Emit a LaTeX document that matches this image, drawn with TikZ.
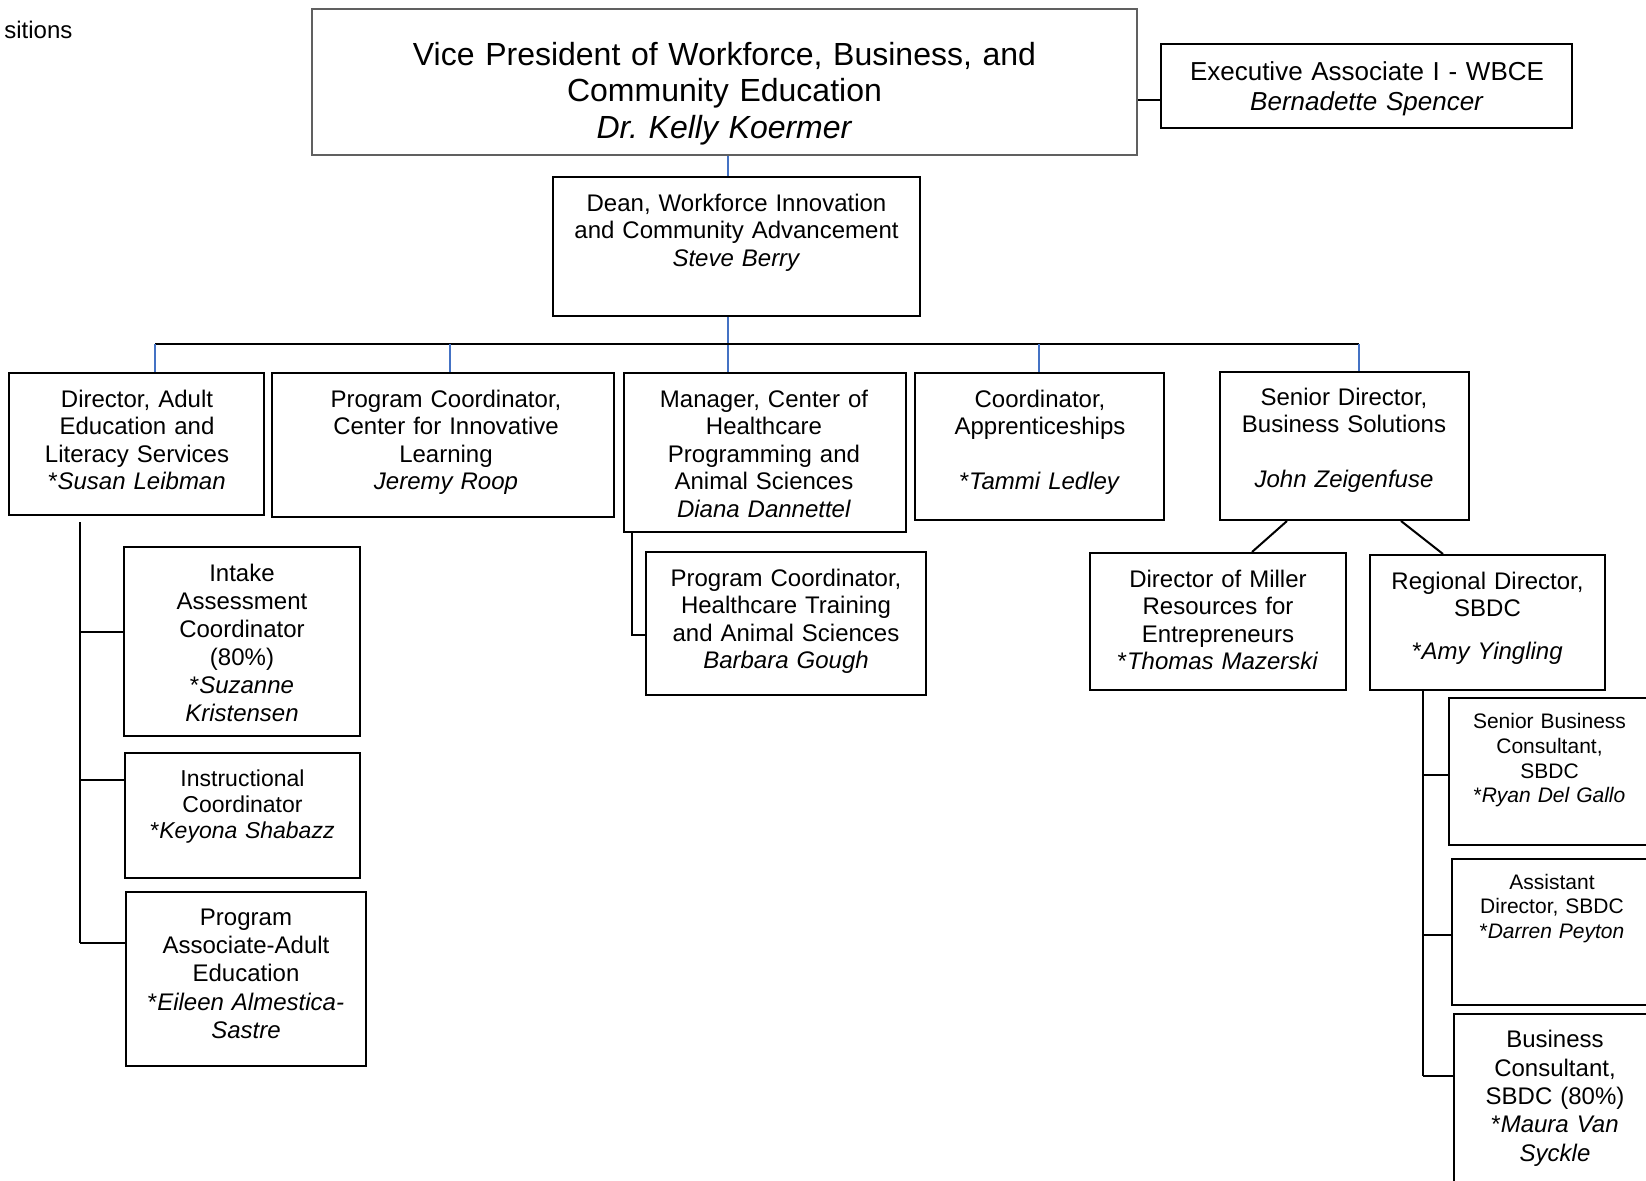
\documentclass[tikz,border=0pt]{standalone}
\usepackage{fontspec}
\setmainfont{Liberation Sans}
\usepackage{tikz}
\usetikzlibrary{fit}

\definecolor{lineblue}{RGB}{68,114,196}
\definecolor{vpgray}{RGB}{96,96,96}

\frenchspacing

\begin{document}
\begin{tikzpicture}[x=0.5pt, y=-0.5pt,
  orgbox/.style={draw, line width=1pt, inner sep=0pt},
  txt/.style={align=center, text width=220pt, inner sep=0pt, anchor=base, font=\fontsize{12}{13.8}\selectfont},
  smalltxt/.style={txt, font=\fontsize{10.5}{12.4}\selectfont},
  conn/.style={line width=1pt},
  drop/.style={draw=lineblue, line width=1pt}]

\useasboundingbox (0,0) rectangle (1646,1180);

% cut off note
\node[txt, anchor=base west, text width=] (note) at (4,38) {sitions};

% top boxes

\node[orgbox, draw=vpgray, line width=0.75pt, fit={(312,9) (1137,155)}] (vp) {};
\node[txt, text width=400pt, font=\fontsize{16}{18.4}\selectfont] (vp_label) at (724.5,65) {Vice President of Workforce, Business, and\\Community Education\\\textit{Dr.\ Kelly Koermer}};

\node[orgbox, fit={(1161,44) (1572,128)}] (exec) {};
\node[txt, font=\fontsize{13}{15.2}\selectfont] (exec_label) at (1367,80) {Executive Associate I - WBCE\\\textit{Bernadette Spencer}};

\node[orgbox, fit={(553,177) (920,316)}] (dean) {};
\node[txt] (dean_label) at (736.5,211) {Dean, Workforce Innovation\\and Community Advancement\\\textit{Steve Berry}};

% second row

\node[orgbox, fit={(9,373) (264,515)}] (adult) {};
\node[txt] (adult_label) at (137,407) {Director, Adult\\Education and\\Literacy Services\\{}*\textit{Susan Leibman}};

\node[orgbox, fit={(272,373) (614,517)}] (cil) {};
\node[txt] (cil_label) at (446,407) {Program Coordinator,\\Center for Innovative\\Learning\\\textit{Jeremy Roop}};

\node[orgbox, fit={(624,373) (906,532)}] (hc) {};
\node[txt] (hc_label) at (764,407) {Manager, Center of\\Healthcare\\Programming and\\Animal Sciences\\\textit{Diana Dannettel}};

\node[orgbox, fit={(915,373) (1164,520)}] (appr) {};
\node[txt] (appr_label) at (1040,407) {Coordinator,\\Apprenticeships\\[13.8pt]{}*\textit{Tammi Ledley}};

\node[orgbox, fit={(1220,372) (1469,520)}] (srdir) {};
\node[txt] (srdir_label) at (1344,405) {Senior Director,\\Business Solutions\\[13.8pt]\textit{John Zeigenfuse}};

% adult education staff

\node[orgbox, fit={(124,547) (360,736)}] (intake) {};
\node[txt, font=\fontsize{12}{14}\selectfont] (intake_label) at (242,581.5) {Intake\\Assessment\\Coordinator\\(80\%)\\{}*\textit{Suzanne}\\\textit{Kristensen}};

\node[orgbox, fit={(125,753) (360,878)}] (instr) {};
\node[txt, font=\fontsize{11.5}{13.1}\selectfont] (instr_label) at (242.5,786) {Instructional\\Coordinator\\{}*\textit{Keyona Shabazz}};

\node[orgbox, fit={(126,892) (366,1066)}] (assoc) {};
\node[txt, font=\fontsize{12}{14.2}\selectfont] (assoc_label) at (246,925) {Program\\Associate-Adult\\Education\\{}*\textit{Eileen Almestica-}\\\textit{Sastre}};

% healthcare staff

\node[orgbox, fit={(646,552) (926,695)}] (pcht) {};
\node[txt] (pcht_label) at (786,586) {Program Coordinator,\\Healthcare Training\\and Animal Sciences\\\textit{Barbara Gough}};

% business solutions staff

\node[orgbox, fit={(1090,553) (1346,690)}] (miller) {};
\node[txt] (miller_label) at (1218,587) {Director of Miller\\Resources for\\Entrepreneurs\\{}*\textit{Thomas Mazerski}};

\node[orgbox, fit={(1370,555) (1605,690)}] (regional) {};
\node[txt] (regional_label) at (1487.5,589) {Regional Director,\\SBDC\\[7.4pt]{}*\textit{Amy Yingling}};

\node[orgbox, fit={(1449,698) (1652,845)}] (sbc) {};
\node[smalltxt] (sbc_label) at (1549.5,728.5) {Senior Business\\Consultant,\\SBDC\\{}*\textit{Ryan Del Gallo}};

\node[orgbox, fit={(1452,859) (1654,1005)}] (ad) {};
\node[smalltxt] (ad_label) at (1552,889) {Assistant\\Director, SBDC\\{}*\textit{Darren Peyton}};

\node[orgbox, fit={(1454,1014) (1656,1200)}] (bc) {};
\node[txt, font=\fontsize{12}{14.2}\selectfont] (bc_label) at (1555,1047.6) {Business\\Consultant,\\SBDC (80\%)\\{}*\textit{Maura Van}\\\textit{Syckle}};

% join points

\coordinate (execrow) at (1150,100);
\coordinate (spine) at (728,344);
\coordinate (tapA) at (155,344);
\coordinate (tapB) at (450,344);
\coordinate (tapD) at (1039,344);
\coordinate (tapE) at (1359,344);
\coordinate (adtop) at (80,522);
\coordinate (ad1) at (80,632);
\coordinate (ad2) at (80,780);
\coordinate (ad3) at (80,943);
\coordinate (hcjoin) at (632,635);
\coordinate (sd1) at (1287,520);
\coordinate (sd2) at (1252,553);
\coordinate (sd3) at (1401,520);
\coordinate (sd4) at (1443,555);
\coordinate (rg1) at (1423,775);
\coordinate (rg2) at (1423,935);
\coordinate (rg3) at (1423,1076);

% top connectors
\draw[conn] (vp.east |- execrow) -- (exec.west |- execrow);
\draw[drop] (vp.south -| spine) -- (dean.north -| spine);
\draw[drop] (dean.south -| spine) -- (hc.north -| spine);

% bus and drops
\draw[conn] (tapA) -- (tapE);
\draw[drop] (tapA) -- (tapA |- adult.north);
\draw[drop] (tapB) -- (tapB |- cil.north);
\draw[drop] (tapD) -- (tapD |- appr.north);
\draw[drop] (tapE) -- (tapE |- srdir.north);

% adult education tree
\draw[conn] (adtop) -- (ad3);
\draw[conn] (ad1) -- (ad1 -| intake.west);
\draw[conn] (ad2) -- (ad2 -| instr.west);
\draw[conn] (ad3) -- (ad3 -| assoc.west);

% healthcare tree
\draw[conn] (hc.south -| hcjoin) -- (hcjoin) -- (hcjoin -| pcht.west);

% business solutions tree
\draw[conn] (srdir.south -| sd1) -- (miller.north -| sd2);
\draw[conn] (srdir.south -| sd3) -- (regional.north -| sd4);
\draw[conn] (regional.south -| rg1) -- (rg3);
\draw[conn] (rg1) -- (rg1 -| sbc.west);
\draw[conn] (rg2) -- (rg2 -| ad.west);
\draw[conn] (rg3) -- (rg3 -| bc.west);

\end{tikzpicture}
\end{document}
